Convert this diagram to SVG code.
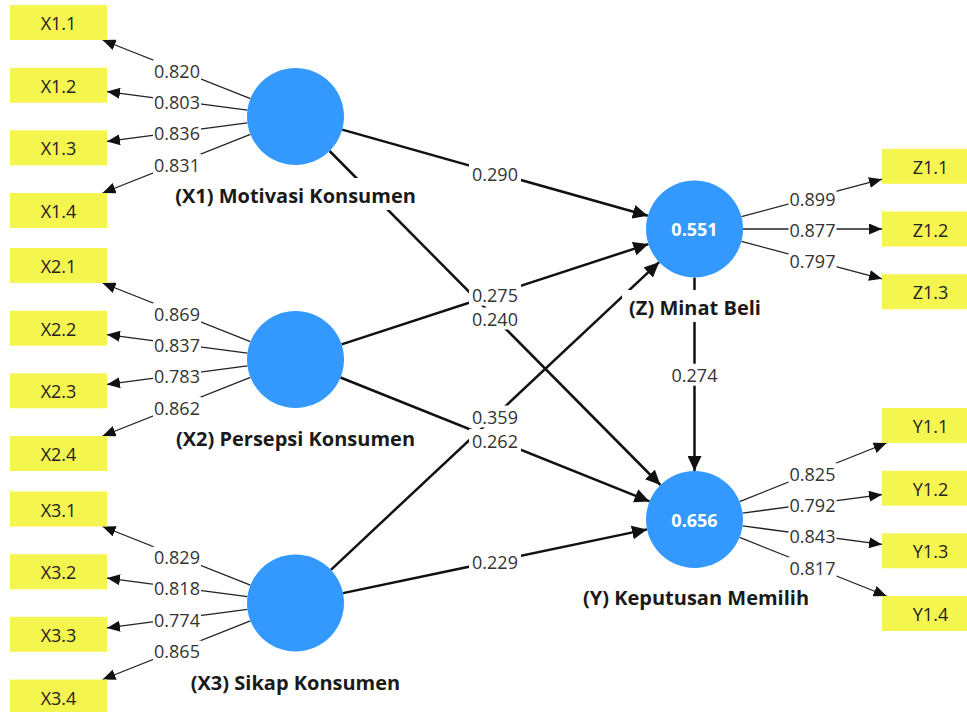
<svg xmlns="http://www.w3.org/2000/svg" width="967" height="712" viewBox="0 0 967 712">
<style>
.box{fill:#F5F550}
.bt{font-family:"Open Sans","Noto Sans",sans-serif;font-size:18px;fill:#222;text-anchor:middle}
.lat{fill:#3399FF}
.lv{font-family:"Open Sans","Noto Sans",sans-serif;font-size:18px;font-weight:bold;fill:#fff;text-anchor:middle}
.nl{font-family:"Open Sans","Noto Sans",sans-serif;font-size:20px;font-weight:bold;fill:#1a1a1a;text-anchor:middle}
.bg{fill:#fff}
.ld{stroke:#222;stroke-width:1.3;fill:none;marker-end:url(#al)}
.pth{stroke:#111;stroke-width:2.5;fill:none;marker-end:url(#ap)}
.num{font-family:"Open Sans","Noto Sans",sans-serif;font-size:18px;fill:#333;text-anchor:middle}
</style>
<defs>
<marker id="ap" viewBox="0 0 15 14" refX="15" refY="7" markerWidth="15" markerHeight="14" markerUnits="userSpaceOnUse" orient="auto"><path d="M0,0L15,7L0,14z" fill="#111"/></marker>
<marker id="al" viewBox="0 0 13 11" refX="13" refY="5.5" markerWidth="13" markerHeight="11" markerUnits="userSpaceOnUse" orient="auto"><path d="M0,0L13,5.5L0,11z" fill="#111"/></marker>
</defs>
<rect width="967" height="712" fill="#fff"/>
<g id="connectors">
<line class="ld" x1="250.4" y1="98.6" x2="102.6" y2="40"/>
<line class="ld" x1="247.4" y1="110.1" x2="107" y2="91.6"/>
<line class="ld" x1="247.4" y1="122.9" x2="107" y2="141.4"/>
<line class="ld" x1="250.4" y1="134.4" x2="102.6" y2="193"/>
<line class="ld" x1="250.4" y1="341.6" x2="102.6" y2="283"/>
<line class="ld" x1="247.4" y1="353.1" x2="107" y2="334.6"/>
<line class="ld" x1="247.4" y1="365.9" x2="107" y2="384.4"/>
<line class="ld" x1="250.4" y1="377.4" x2="102.6" y2="436"/>
<line class="ld" x1="250.4" y1="585.1" x2="102.6" y2="526.5"/>
<line class="ld" x1="247.4" y1="596.6" x2="107" y2="578.1"/>
<line class="ld" x1="247.4" y1="609.4" x2="107" y2="627.9"/>
<line class="ld" x1="250.4" y1="620.9" x2="102.6" y2="679.5"/>
<line class="ld" x1="741.4" y1="216.6" x2="882" y2="179.2"/>
<line class="ld" x1="743" y1="229" x2="882" y2="229"/>
<line class="ld" x1="741.4" y1="241.4" x2="882" y2="278.8"/>
<line class="ld" x1="739.6" y1="501.6" x2="886.6" y2="443"/>
<line class="ld" x1="742.6" y1="513.1" x2="882" y2="494.6"/>
<line class="ld" x1="742.6" y1="525.9" x2="882" y2="544.4"/>
<line class="ld" x1="739.6" y1="537.4" x2="886.6" y2="596"/>
<line class="pth" x1="342.2" y1="129.6" x2="647.8" y2="215.8"/>
<line class="pth" x1="329.6" y1="151" x2="660.4" y2="485"/>
<line class="pth" x1="341.6" y1="344.4" x2="648.4" y2="244.1"/>
<line class="pth" x1="340.5" y1="377.5" x2="649.5" y2="501.4"/>
<line class="pth" x1="330.9" y1="569.8" x2="659.1" y2="262.2"/>
<line class="pth" x1="343" y1="593.1" x2="647" y2="529.4"/>
<line class="pth" x1="694.5" y1="277.5" x2="694.5" y2="471"/>
</g>
<g id="connector-labels">
<rect class="bg" x="153" y="60" width="48" height="21"/><text class="num" x="177" y="77.5">0.820</text>
<rect class="bg" x="153" y="91.3" width="48" height="21"/><text class="num" x="177" y="108.8">0.803</text>
<rect class="bg" x="153" y="122.7" width="48" height="21"/><text class="num" x="177" y="140.2">0.836</text>
<rect class="bg" x="153" y="154" width="48" height="21"/><text class="num" x="177" y="171.5">0.831</text>
<rect class="bg" x="153" y="303" width="48" height="21"/><text class="num" x="177" y="320.5">0.869</text>
<rect class="bg" x="153" y="334.3" width="48" height="21"/><text class="num" x="177" y="351.8">0.837</text>
<rect class="bg" x="153" y="365.7" width="48" height="21"/><text class="num" x="177" y="383.2">0.783</text>
<rect class="bg" x="153" y="397" width="48" height="21"/><text class="num" x="177" y="414.5">0.862</text>
<rect class="bg" x="153" y="546.5" width="48" height="21"/><text class="num" x="177" y="564">0.829</text>
<rect class="bg" x="153" y="577.8" width="48" height="21"/><text class="num" x="177" y="595.3">0.818</text>
<rect class="bg" x="153" y="609.2" width="48" height="21"/><text class="num" x="177" y="626.7">0.774</text>
<rect class="bg" x="153" y="640.5" width="48" height="21"/><text class="num" x="177" y="658">0.865</text>
<rect class="bg" x="788.5" y="188.2" width="48" height="21"/><text class="num" x="812.5" y="205.7">0.899</text>
<rect class="bg" x="788.5" y="219.5" width="48" height="21"/><text class="num" x="812.5" y="237">0.877</text>
<rect class="bg" x="788.5" y="250.8" width="48" height="21"/><text class="num" x="812.5" y="268.3">0.797</text>
<rect class="bg" x="788.5" y="463" width="48" height="21"/><text class="num" x="812.5" y="480.5">0.825</text>
<rect class="bg" x="788.5" y="494.3" width="48" height="21"/><text class="num" x="812.5" y="511.8">0.792</text>
<rect class="bg" x="788.5" y="525.7" width="48" height="21"/><text class="num" x="812.5" y="543.2">0.843</text>
<rect class="bg" x="788.5" y="557" width="48" height="21"/><text class="num" x="812.5" y="574.5">0.817</text>
<rect class="bg" x="469" y="162.2" width="52" height="22"/><text class="num" x="495" y="180.7">0.290</text>
<rect class="bg" x="469" y="283.7" width="52" height="22"/><text class="num" x="495" y="302.2">0.275</text>
<rect class="bg" x="469" y="307.5" width="52" height="22"/><text class="num" x="495" y="326">0.240</text>
<rect class="bg" x="469" y="405.5" width="52" height="22"/><text class="num" x="495" y="424">0.359</text>
<rect class="bg" x="469" y="429" width="52" height="22"/><text class="num" x="495" y="447.5">0.262</text>
<rect class="bg" x="469" y="550.7" width="52" height="22"/><text class="num" x="495" y="569.2">0.229</text>
<rect class="bg" x="668.5" y="363.7" width="52" height="22"/><text class="num" x="694.5" y="382.2">0.274</text>
</g>
<g id="X1">
<circle class="lat" cx="295.5" cy="116.5" r="48.5"/>
<rect class="bg" x="166" y="178" width="259" height="32"/>
<text class="nl" x="295.5" y="203">(X1) Motivasi Konsumen</text>
</g>
<g id="X2">
<circle class="lat" cx="295.5" cy="359.5" r="48.5"/>
<rect class="bg" x="168" y="421" width="255" height="32"/>
<text class="nl" x="295.5" y="446">(X2) Persepsi Konsumen</text>
</g>
<g id="X3">
<circle class="lat" cx="295.5" cy="603" r="48.5"/>
<rect class="bg" x="183" y="665" width="225" height="32"/>
<text class="nl" x="295.5" y="690">(X3) Sikap Konsumen</text>
</g>
<g id="Z">
<circle class="lat" cx="694.5" cy="229" r="48.5"/>
<text class="lv" x="694.5" y="236">0.551</text>
<rect class="bg" x="622" y="290" width="146" height="32"/>
<text class="nl" x="695" y="315">(Z) Minat Beli</text>
</g>
<g id="Y">
<circle class="lat" cx="694.5" cy="519.5" r="48.5"/>
<text class="lv" x="694.5" y="526.5">0.656</text>
<rect class="bg" x="577" y="580" width="238" height="32"/>
<text class="nl" x="696" y="605">(Y) Keputusan Memilih</text>
</g>
<g id="X1.1"><rect class="box" x="10" y="5" width="97" height="35"/><text class="bt" x="58.5" y="30">X1.1</text></g>
<g id="X1.2"><rect class="box" x="10" y="67.7" width="97" height="35"/><text class="bt" x="58.5" y="92.7">X1.2</text></g>
<g id="X1.3"><rect class="box" x="10" y="130.3" width="97" height="35"/><text class="bt" x="58.5" y="155.3">X1.3</text></g>
<g id="X1.4"><rect class="box" x="10" y="193" width="97" height="35"/><text class="bt" x="58.5" y="218">X1.4</text></g>
<g id="X2.1"><rect class="box" x="10" y="248" width="97" height="35"/><text class="bt" x="58.5" y="273">X2.1</text></g>
<g id="X2.2"><rect class="box" x="10" y="310.7" width="97" height="35"/><text class="bt" x="58.5" y="335.7">X2.2</text></g>
<g id="X2.3"><rect class="box" x="10" y="373.3" width="97" height="35"/><text class="bt" x="58.5" y="398.3">X2.3</text></g>
<g id="X2.4"><rect class="box" x="10" y="436" width="97" height="35"/><text class="bt" x="58.5" y="461">X2.4</text></g>
<g id="X3.1"><rect class="box" x="10" y="491.5" width="97" height="35"/><text class="bt" x="58.5" y="516.5">X3.1</text></g>
<g id="X3.2"><rect class="box" x="10" y="554.2" width="97" height="35"/><text class="bt" x="58.5" y="579.2">X3.2</text></g>
<g id="X3.3"><rect class="box" x="10" y="616.8" width="97" height="35"/><text class="bt" x="58.5" y="641.8">X3.3</text></g>
<g id="X3.4"><rect class="box" x="10" y="679.5" width="97" height="35"/><text class="bt" x="58.5" y="704.5">X3.4</text></g>
<g id="Z1.1"><rect class="box" x="882" y="148.8" width="97" height="35"/><text class="bt" x="930.5" y="173.8">Z1.1</text></g>
<g id="Z1.2"><rect class="box" x="882" y="211.5" width="97" height="35"/><text class="bt" x="930.5" y="236.5">Z1.2</text></g>
<g id="Z1.3"><rect class="box" x="882" y="274.2" width="97" height="35"/><text class="bt" x="930.5" y="299.2">Z1.3</text></g>
<g id="Y1.1"><rect class="box" x="882" y="408" width="97" height="35"/><text class="bt" x="930.5" y="433">Y1.1</text></g>
<g id="Y1.2"><rect class="box" x="882" y="470.7" width="97" height="35"/><text class="bt" x="930.5" y="495.7">Y1.2</text></g>
<g id="Y1.3"><rect class="box" x="882" y="533.3" width="97" height="35"/><text class="bt" x="930.5" y="558.3">Y1.3</text></g>
<g id="Y1.4"><rect class="box" x="882" y="596" width="97" height="35"/><text class="bt" x="930.5" y="621">Y1.4</text></g>
</svg>
